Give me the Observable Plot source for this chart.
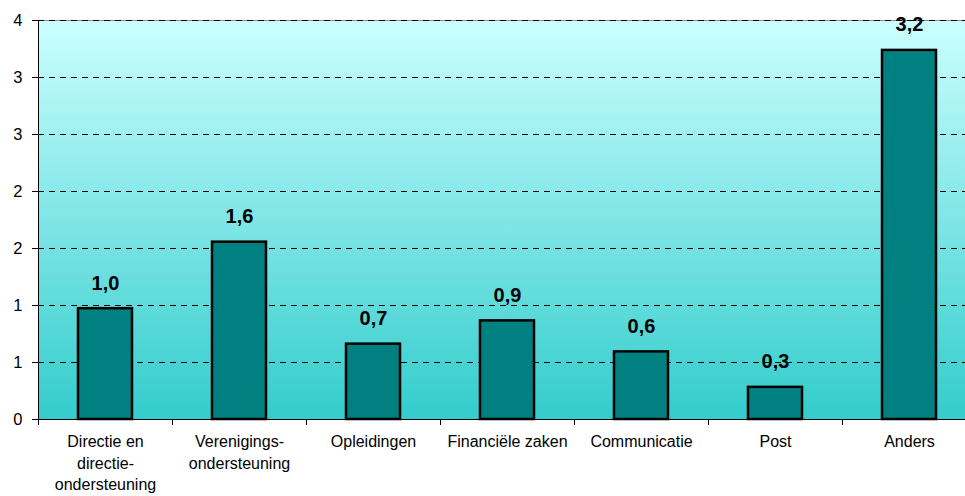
<!DOCTYPE html>
<html>
<head>
<meta charset="utf-8">
<script src="https://cdn.jsdelivr.net/npm/d3@7"></script>
<script src="https://cdn.jsdelivr.net/npm/@observablehq/plot@0.6"></script>
<style>
  html, body { margin: 0; padding: 0; background: #fff; }
  svg { font-family: "Liberation Sans", Arial, sans-serif; display: block; }
</style>
</head>
<body>
<div id="chart"></div>
<script>
// Data
const categories = [
  "Directie en\ndirectie-\nondersteuning",
  "Verenigings-\nondersteuning",
  "Opleidingen",
  "Financiële zaken",
  "Communicatie",
  "Post",
  "Anders"
];
const values = [1.0, 1.6, 0.68, 0.89, 0.61, 0.29, 3.33];
const valueLabels = ["1,0", "1,6", "0,7", "0,9", "0,6", "0,3", "3,2"];
const yMax = 3.6;
const yTicks = d3.range(8).map(i => i * yMax / 7);

const data = categories.map((c, i) => ({cat: c, value: values[i], label: valueLabels[i]}));

const W = 965, H = 496;
const mL = 38, mR = -11, mT = 20, mB = 77;

// custom mark: left axis line + category boundary ticks
function boundaryMark(index, scales, values, dims) {
  const g = document.createElementNS("http://www.w3.org/2000/svg", "g");
  const x0 = dims.marginLeft, x1 = dims.width - dims.marginRight;
  const yb = dims.height - dims.marginBottom, yt = dims.marginTop;
  const n = categories.length;
  const step = (x1 - x0) / n;
  let s = `<line x1="${x0 + 0.5}" x2="${x0 + 0.5}" y1="${yt}" y2="${yb + 6}" stroke="black"/>`;
  for (let i = 1; i <= n; i++) {
    const x = Math.round(x0 + i * step) + 0.5;
    s += `<line x1="${x}" x2="${x}" y1="${yb}" y2="${yb + 6}" stroke="black"/>`;
  }
  s += `<line x1="${x0 - 6}" x2="${x1}" y1="${yb + 0.5}" y2="${yb + 0.5}" stroke="black"/>`;
  g.innerHTML = s;
  return g;
}

const chart = Plot.plot({
  width: W,
  height: H,
  marginLeft: mL,
  marginRight: mR,
  marginTop: mT,
  marginBottom: mB,
  style: {fontFamily: "Liberation Sans, Arial, sans-serif", background: "white", overflow: "hidden"},
  x: {domain: categories, paddingInner: 0.6, paddingOuter: 0.3},
  y: {domain: [0, yMax]},
  marks: [
    Plot.frame({fill: "url(#bgGrad)", stroke: "#8a8a8a"}),
    Plot.ruleY(yTicks.slice(1), {stroke: "black", strokeDasharray: "6,5", strokeWidth: 1}),
    Plot.barY(data, {x: "cat", y: "value", fill: "#008080", stroke: "black", strokeWidth: 2.5}),
    Plot.text(data, {x: "cat", y: "value", text: "label", fontWeight: "bold", fontSize: 20, lineAnchor: "bottom", dy: -19, fill: "black"}),
    Plot.axisY({ticks: yTicks, tickFormat: d => String(Math.round(d)), tickSize: 6, tickPadding: 10, fontSize: 16.5, label: null, color: "black"}),
    Plot.axisX({tickSize: 0, tickPadding: 13, fontSize: 16, lineHeight: 1.32, label: null, color: "black"}),
    boundaryMark
  ]
});

const svg = d3.select(chart);
svg.insert("defs", ":first-child").html(
  `<linearGradient id="bgGrad" x1="0" y1="0" x2="0" y2="1">
     <stop offset="0" stop-color="#ccffff"/>
     <stop offset="1" stop-color="#33cccc"/>
   </linearGradient>`
);
document.getElementById("chart").appendChild(chart);
</script>
</body>
</html>
